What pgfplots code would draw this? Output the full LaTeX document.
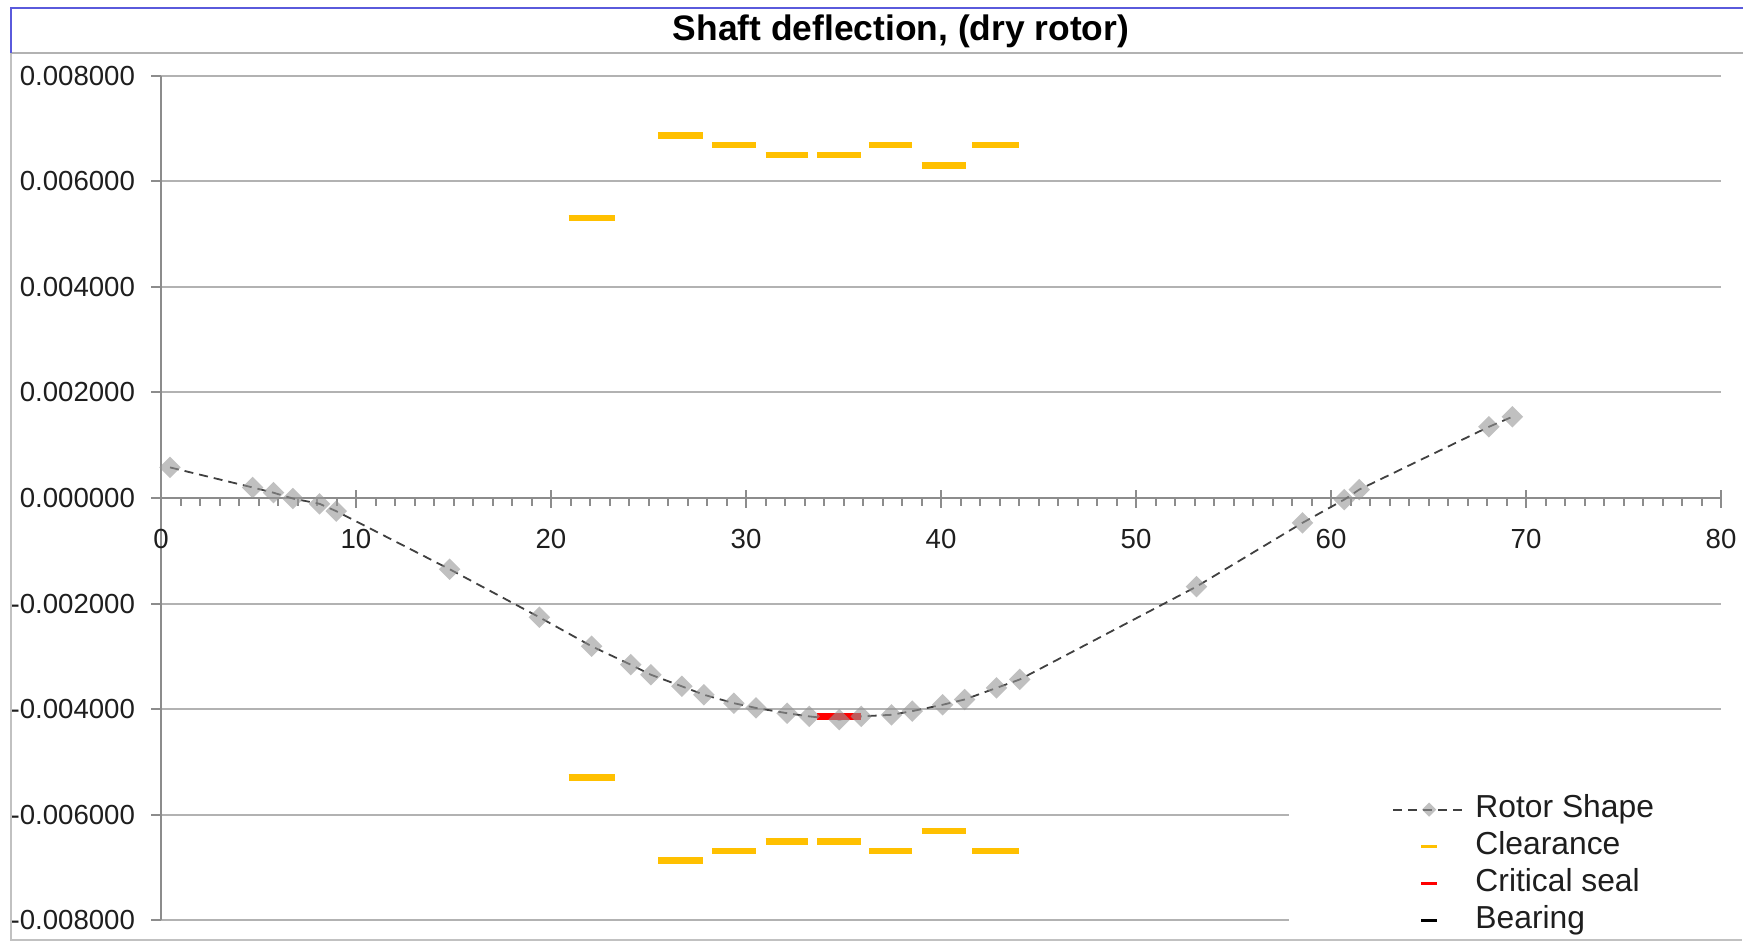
\documentclass[border=0pt]{standalone}
\usepackage{fontspec}
\setmainfont{Liberation Sans}
\usepackage{pgfplots}
\pgfplotsset{compat=1.18}
\definecolor{clr}{RGB}{255,192,0}
\definecolor{gridc}{RGB}{178,178,178}
\definecolor{axc}{RGB}{140,140,140}
\definecolor{mk}{RGB}{150,150,150}
\definecolor{frameblue}{RGB}{90,90,220}
\definecolor{txt}{RGB}{30,30,30}
\pgfplotsset{rotorimg/.style={legend image code/.code={\draw[mark repeat=2,mark phase=2,##1,mark size=2.5pt] plot coordinates {(0pt,0pt) (18pt,0pt) (36pt,0pt)};}}}
\begin{document}
\begin{tikzpicture}
\path[use as bounding box] (0,0) rectangle (871.5pt,471pt);
\begin{axis}[
  at={(80.5pt,11pt)}, anchor=south west,
  scale only axis, width=780pt, height=422pt,
  xmin=0, xmax=80, ymin=-0.008, ymax=0.008,
  clip=false,
  axis x line=middle, axis y line=left,
  axis line style={-, draw=axc, line width=1pt},
  hide obscured x ticks=false, hide obscured y ticks=false,
  xtick={0,10,20,30,40,50,60,70,80}, minor x tick num=9,
  ytick={-0.008,-0.006,-0.004,-0.002,0,0.002,0.004,0.006,0.008},
  ymajorgrids, grid style={draw=gridc, line width=1pt},
  tick style={draw=axc, line width=1pt},
  major tick length=5pt, minor tick length=4pt, tick align=outside,
  extra x ticks={0,10,20,30,40,50,60,70,80},
  extra x tick labels={},
  extra x tick style={tick align=inside, major tick length=4pt},
  /pgf/number format/assume math mode=true,
  scaled y ticks=false,
  ticklabel style={font=\fontsize{13.8}{16}\selectfont, text=txt},
  yticklabel style={anchor=east, xshift=-4.5pt, /pgf/number format/fixed, /pgf/number format/fixed zerofill, /pgf/number format/precision=6},
  xticklabel style={anchor=center, yshift=-15.5pt},
  legend cell align=left,
  legend style={at={(0.789,0.149)}, anchor=north west, draw=none, fill=none,
    inner sep=0pt, row sep=3.5pt, column sep=4.7pt,
    font=\fontsize{15.9}{18}\selectfont, text=txt,
    nodes={inner sep=0pt, text height=11.5pt, text depth=3.5pt}},
]
\addplot[color=black!75, line width=0.9pt, dash pattern=on 4.5pt off 3pt,
  mark=square*, mark size=3.8pt,
  mark options={solid, rotate=45, fill=mk, draw opacity=0, fill opacity=0.6},
  rotorimg]
table {
x y
0.46 0.00058
4.70 0.00020
5.77 0.00010
6.76 -0.00001
8.13 -0.00011
8.99 -0.00025
14.8 -0.00135
19.4 -0.00226
22.08 -0.00281
24.09 -0.00316
25.12 -0.00335
26.71 -0.00357
27.84 -0.00373
29.38 -0.00389
30.51 -0.00398
32.11 -0.00408
33.24 -0.00414
34.78 -0.00420
35.91 -0.00414
37.46 -0.00411
38.53 -0.00404
40.08 -0.00392
41.21 -0.00382
42.85 -0.00360
44.04 -0.00344
53.10 -0.00168
58.54 -0.00047
60.68 -0.00003
61.45 0.00016
68.10 0.00135
69.30 0.00154
};
\addlegendentry{Rotor Shape}
\addplot[clr, line width=3.3pt, line cap=butt, unbounded coords=jump,
  legend image code/.code={\draw[clr, line width=1.3pt] (14pt,0pt) -- (22pt,0pt);}]
table {
x y
20.9 0.00531
23.3 0.00531
nan nan
25.5 0.00687
27.8 0.00687
nan nan
28.25 0.00669
30.5 0.00669
nan nan
31.0 0.00650
33.2 0.00650
nan nan
33.65 0.00650
35.9 0.00650
nan nan
36.3 0.00669
38.5 0.00669
nan nan
39.0 0.00630
41.3 0.00630
nan nan
41.6 0.00669
44.0 0.00669
nan nan
20.9 -0.00530
23.3 -0.00530
nan nan
25.5 -0.00687
27.8 -0.00687
nan nan
28.25 -0.00669
30.5 -0.00669
nan nan
31.0 -0.00651
33.2 -0.00651
nan nan
33.65 -0.00651
35.9 -0.00651
nan nan
36.3 -0.00669
38.5 -0.00669
nan nan
39.0 -0.00631
41.3 -0.00631
nan nan
41.6 -0.00669
44.0 -0.00669
};
\addlegendentry{Clearance}
\addplot[red, line width=3.5pt, line cap=butt,
  legend image code/.code={\draw[red, line width=1.3pt] (14pt,0pt) -- (22pt,0pt);}]
coordinates {(33.65,-0.00415) (35.91,-0.00415)};
\addlegendentry{Critical seal}
\addlegendimage{legend image code/.code={\draw[black, line width=1.3pt] (14pt,0pt) -- (22pt,0pt);}}
\addlegendentry{Bearing}
\fill[white] (axis cs:57.85,-0.0085) rectangle (axis cs:81,-0.0054);
\end{axis}
\draw[gridc!80, line width=1pt] (5.5pt,444.5pt) -- (5.5pt,1pt) -- (871pt,1pt);
\draw[gridc, line width=1pt] (5.5pt,444.5pt) -- (871.5pt,444.5pt);
\draw[frameblue, line width=1.2pt] (5.5pt,444.5pt) -- (5.5pt,467pt) -- (871.5pt,467pt);
\node[font=\fontsize{17.7}{21}\selectfont\bfseries, text=black] at (450.5pt,455.5pt) {Shaft deflection, (dry rotor)};
\end{tikzpicture}
\end{document}
